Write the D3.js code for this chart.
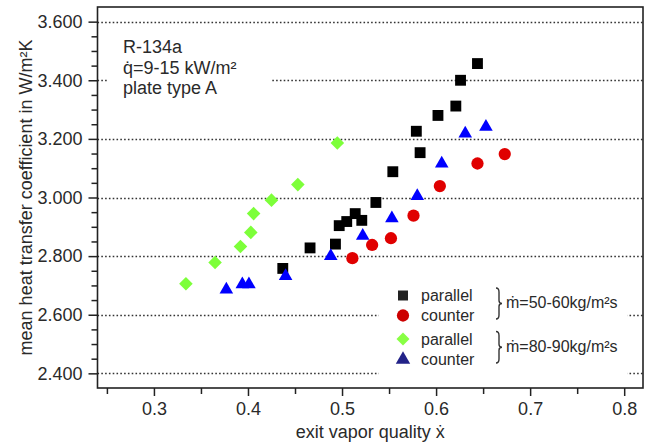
<!DOCTYPE html>
<html>
<head>
<meta charset="utf-8">
<script src="https://cdn.jsdelivr.net/npm/d3@7"></script>
<style>
  html, body { margin: 0; padding: 0; background: #fff; }
  svg { display: block; font-family: "Liberation Sans", Arial, Helvetica, sans-serif; }
</style>
</head>
<body>
<svg id="chart" width="651" height="447"></svg>
<script>
// Exit vapour quality (x) and mean heat transfer coefficient (W/m²K) per series
const parallel5060 = [
  [0.437, 2758], [0.466, 2828], [0.493, 2841], [0.497, 2904], [0.505, 2918],
  [0.514, 2945], [0.521, 2922], [0.536, 2983], [0.554, 3088], [0.583, 3153],
  [0.579, 3226], [0.602, 3280], [0.621, 3312], [0.626, 3400], [0.644, 3457]
];
const counter5060 = [
  [0.511, 2793], [0.532, 2838], [0.552, 2861], [0.576, 2938], [0.604, 3039],
  [0.644, 3116], [0.673, 3148]
];
const parallel8090 = [
  [0.334, 2706], [0.365, 2778], [0.392, 2833], [0.403, 2881], [0.406, 2945],
  [0.425, 2991], [0.453, 3044], [0.495, 3186]
];
const counter8090 = [
  [0.377, 2686], [0.394, 2704], [0.401, 2704], [0.440, 2732], [0.488, 2800],
  [0.522, 2869], [0.553, 2929], [0.580, 3005], [0.606, 3116], [0.631, 3218],
  [0.653, 3241]
];

const xTicks = [0.3, 0.4, 0.5, 0.6, 0.7, 0.8];
const xMinorTicks = [0.25, 0.35, 0.45, 0.55, 0.65, 0.75];
const yTicks = [2400, 2600, 2800, 3000, 3200, 3400, 3600];
const yMinorTicks = [2450, 2500, 2550, 2650, 2700, 2750, 2850, 2900, 2950,
  3050, 3100, 3150, 3250, 3300, 3350, 3450, 3500, 3550];
const yTickLabels = ["2.400", "2.600", "2.800", "3.000", "3.200", "3.400", "3.600"];

const annotationLines = ["R-134a", "q\u0307=9-15 kW/m²", "plate type A"];
const legendGroups = [
  { label: "\u1E41=50-60kg/m²s", rows: ["parallel", "counter"] },
  { label: "\u1E41=80-90kg/m²s", rows: ["parallel", "counter"] }
];
const xTitle = "exit vapor quality \u1E8B";
const yTitle = "mean heat transfer coefficient in W/m²K";

const W = 651, H = 447;
const margin = { top: 7, right: 8, bottom: 59, left: 97.5 };
const iw = W - margin.left - margin.right;
const ih = H - margin.top - margin.bottom;

const svg = d3.select("#chart");
const g = svg.append("g").attr("transform", `translate(${margin.left},${margin.top})`);

const x = d3.scaleLinear().domain([0.24, 0.82]).range([0, iw]);
const y = d3.scaleLinear().domain([2350, 3650]).range([ih, 0]);

const ink = "#222";
const textColor = "#2a2a2a";

// Dotted horizontal grid lines at the major values
const grid = g.append("g");
grid.selectAll("line").data(yTicks).join("line")
  .attr("x1", 0).attr("x2", iw)
  .attr("y1", d => Math.round(y(d)) + 0.5).attr("y2", d => Math.round(y(d)) + 0.5)
  .attr("stroke", "#333").attr("stroke-width", 1.6)
  .attr("stroke-dasharray", "1.6 2.2");

// White panels that keep the grid clear behind the notes and legend
const panels = g.append("g");

// Markers
const sym = (type, size) => d3.symbol().type(type).size(size)();
const series = [
  { data: parallel5060, path: sym(d3.symbolSquare, 118), fill: "#000000", rot: 0 },
  { data: counter5060, path: sym(d3.symbolCircle, 118), fill: "#e00000", rot: 0 },
  { data: parallel8090, path: sym(d3.symbolSquare, 92), fill: "#7dff3a", rot: 45 },
  { data: counter8090, path: sym(d3.symbolTriangle, 80), fill: "#0000ff", rot: 0 }
];

// Axes: majors with labels, minors without
const xAxis = d3.axisBottom(x).tickValues(xTicks).tickSize(8).tickPadding(6)
  .tickFormat(d3.format(".1f"));
const xMinor = d3.axisBottom(x).tickValues(xMinorTicks).tickSize(6).tickFormat("");
const yAxis = d3.axisLeft(y).tickValues(yTicks).tickSize(9).tickPadding(6)
  .tickFormat((d, i) => yTickLabels[i]);
const yMinor = d3.axisLeft(y).tickValues(yMinorTicks).tickSize(6).tickFormat("");

function styleAxis(sel) {
  sel.select(".domain").remove();
  sel.selectAll(".tick line").attr("stroke", ink).attr("stroke-width", 1.5);
  sel.selectAll(".tick text").attr("fill", textColor)
    .style("font-size", "18px").style("font-family", "'Liberation Sans', Arial, sans-serif");
}
g.append("g").attr("transform", `translate(0,${ih})`).call(xAxis).call(styleAxis);
g.append("g").attr("transform", `translate(0,${ih})`).call(xMinor).call(styleAxis);
g.append("g").call(yAxis).call(styleAxis);
g.append("g").call(yMinor).call(styleAxis);

// Note text in the upper left
const note = g.append("g").attr("transform", `translate(${123 - margin.left},0)`);
note.selectAll("text").data(annotationLines).join("text")
  .attr("x", 0).attr("y", (d, i) => 46 + i * 20.5)
  .attr("fill", textColor).style("font-size", "18px").text(d => d);

// Legend
const legend = g.append("g").attr("transform", `translate(${403 - margin.left},0)`);
const rowY = [295.5 - margin.top, 315.5 - margin.top, 339 - margin.top, 359.5 - margin.top];
const legendMarkers = [
  { path: sym(d3.symbolSquare, 100), fill: "#222222", rot: 0 },
  { path: sym(d3.symbolCircle, 118), fill: "#cc0000", rot: 0 },
  { path: sym(d3.symbolSquare, 84), fill: "#88ff44", rot: 45 },
  { path: sym(d3.symbolTriangle, 90), fill: "#222288", rot: 0 }
];
legendGroups.forEach((grp, gi) => {
  grp.rows.forEach((label, ri) => {
    const k = gi * 2 + ri;
    const m = legendMarkers[k];
    legend.append("path").attr("d", m.path).attr("fill", m.fill)
      .attr("transform", `translate(0,${rowY[k]}) rotate(${m.rot})`);
    legend.append("text").attr("x", 18).attr("y", rowY[k] + 5.5)
      .attr("fill", textColor).style("font-size", "16px").text(label);
  });
  const top = rowY[gi * 2] - 7.5, bot = rowY[gi * 2 + 1] + 3.5, mid = (top + bot) / 2;
  const bx = 93;
  legend.append("path")
    .attr("d", `M${bx},${top} Q${bx + 3},${top} ${bx + 3},${top + 4} L${bx + 3},${mid - 3}`
      + ` Q${bx + 3},${mid} ${bx + 6},${mid} Q${bx + 3},${mid} ${bx + 3},${mid + 3}`
      + ` L${bx + 3},${bot - 4} Q${bx + 3},${bot} ${bx},${bot}`)
    .attr("fill", "none").attr("stroke", "#333").attr("stroke-width", 1.4);
  legend.append("text").attr("x", 103).attr("y", mid + 4.5)
    .attr("fill", textColor).style("font-size", "16px").text(grp.label);
});

// Panels sized from the drawn note and legend
const nb = note.node().getBBox();
panels.append("rect")
  .attr("x", 123 - margin.left + nb.x - 15).attr("y", nb.y - 4)
  .attr("width", nb.width + 15 + 35).attr("height", nb.height + 8)
  .attr("fill", "#fff");
const lb = legend.node().getBBox();
panels.append("rect")
  .attr("x", 403 - margin.left + lb.x - 17).attr("y", lb.y - 6)
  .attr("width", lb.width + 17 + 10).attr("height", ih - lb.y + 6 - 4)
  .attr("fill", "#fff");

// Data markers drawn over the grid
const marks = g.append("g");
series.forEach(s => {
  marks.append("g").selectAll("path").data(s.data).join("path")
    .attr("d", s.path).attr("fill", s.fill)
    .attr("transform", d => `translate(${x(d[0])},${y(d[1])}) rotate(${s.rot})`);
});

// Plot frame
g.append("rect").attr("x", 0).attr("y", 0).attr("width", iw).attr("height", ih)
  .attr("fill", "none").attr("stroke", ink).attr("stroke-width", 1.6);

// Axis titles
svg.append("text").attr("x", margin.left + iw / 2).attr("y", 438)
  .attr("text-anchor", "middle").attr("fill", textColor).style("font-size", "18px")
  .text(xTitle);
svg.append("text").attr("transform", `translate(31.5,${margin.top + ih / 2}) rotate(-90)`)
  .attr("text-anchor", "middle").attr("fill", textColor).style("font-size", "18px")
  .text(yTitle);
</script>
</body>
</html>
